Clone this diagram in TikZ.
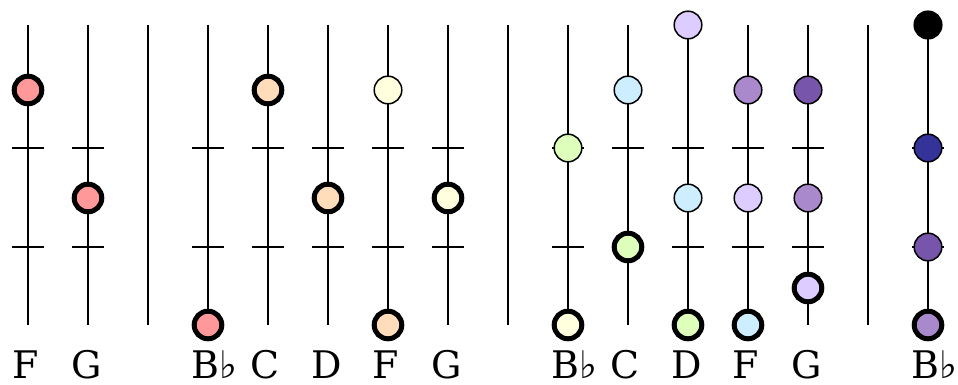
\documentclass[tikz,border=0pt]{standalone}
\usepackage{fontspec}
\setmainfont{DejaVu Serif}
\newfontfamily\symfont{DejaVu Sans}
\definecolor{cred}{HTML}{FF9999}
\definecolor{cpeach}{HTML}{FFDDBB}
\definecolor{cyel}{HTML}{FFFFDD}
\definecolor{cgreen}{HTML}{DDFFBB}
\definecolor{cblue}{HTML}{CCEEFF}
\definecolor{clav}{HTML}{DDCCFF}
\definecolor{cmpur}{HTML}{AA88CC}
\definecolor{cdpur}{HTML}{7755AA}
\definecolor{cdblue}{HTML}{333399}
\tikzset{
  string/.style={line width=1.8pt, black},
  tickmark/.style={line width=1.8pt, black},
  dotthin/.style={circle, draw=black, line width=1.5pt, minimum size=27.6pt, inner sep=0pt},
  dotthick/.style={circle, draw=black, line width=5pt, minimum size=27.6pt, inner sep=0pt},
  lab/.style={anchor=base west, inner sep=0pt, font=\fontsize{38}{40}\selectfont}
}
\newcommand{\flatsym}{{\symfont ♭}}
\begin{document}
\begin{tikzpicture}[x=1pt, y=-1pt]
\useasboundingbox (0,0) rectangle (958,385);
% strings and ticks
\foreach \c/\x in {a/28, b/88, s1/148, c/208, d/268, e/328, f/388, g/448, s2/508, h/568, i/628, j/688, k/748, l/808, s3/868, m/928} {
  \coordinate (\c top) at (\x,25);
  \coordinate (\c bot) at (\x,325);
  \draw[string] (\c top) -- (\c bot);
}
\foreach \c/\x in {a/28, b/88, c/208, d/268, e/328, f/388, g/448, h/568, i/628, j/688, k/748, l/808, m/928} {
  \coordinate (\c t1l) at (\x-16,148);
  \coordinate (\c t1r) at (\x+16,148);
  \coordinate (\c t2l) at (\x-16,247);
  \coordinate (\c t2r) at (\x+16,247);
  \draw[tickmark] (\c t1l) -- (\c t1r);
  \draw[tickmark] (\c t2l) -- (\c t2r);
}
% dots
\node[dotthick, fill=cred] (a1) at (28,90) {};
\node[dotthick, fill=cred] (b1) at (88,198) {};
\node[dotthick, fill=cred] (c1) at (208,325) {};
\node[dotthick, fill=cpeach] (d1) at (268,90) {};
\node[dotthick, fill=cpeach] (e1) at (328,198) {};
\node[dotthin, fill=cyel] (f1) at (388,90) {};
\node[dotthick, fill=cpeach] (f2) at (388,325) {};
\node[dotthick, fill=cyel] (g1) at (448,198) {};
\node[dotthin, fill=cgreen] (h1) at (568,148) {};
\node[dotthick, fill=cyel] (h2) at (568,325) {};
\node[dotthin, fill=cblue] (i1) at (628,90) {};
\node[dotthick, fill=cgreen] (i2) at (628,247) {};
\node[dotthin, fill=clav] (j1) at (688,25) {};
\node[dotthin, fill=cblue] (j2) at (688,198) {};
\node[dotthick, fill=cgreen] (j3) at (688,325) {};
\node[dotthin, fill=cmpur] (k1) at (748,90) {};
\node[dotthin, fill=clav] (k2) at (748,198) {};
\node[dotthick, fill=cblue] (k3) at (748,325) {};
\node[dotthin, fill=cdpur] (l1) at (808,90) {};
\node[dotthin, fill=cmpur] (l2) at (808,198) {};
\node[dotthick, fill=clav] (l3) at (808,288) {};
\node[dotthin, fill=black] (m1) at (928,25) {};
\node[dotthin, fill=cdblue] (m2) at (928,148) {};
\node[dotthin, fill=cdpur] (m3) at (928,247) {};
\node[dotthick, fill=cmpur] (m4) at (928,325) {};
% labels
\node[lab] (la) at (12,378) {F};
\node[lab] (lb) at (71,378) {G};
\node[lab] (lc) at (191,378) {B\flatsym};
\node[lab] (ld) at (250,378) {C};
\node[lab] (le) at (311,378) {D};
\node[lab] (lf) at (372,378) {F};
\node[lab] (lg) at (431,378) {G};
\node[lab] (lh) at (551,378) {B\flatsym};
\node[lab] (li) at (610,378) {C};
\node[lab] (lj) at (671,378) {D};
\node[lab] (lk) at (732,378) {F};
\node[lab] (ll) at (791,378) {G};
\node[lab] (lm) at (911,378) {B\flatsym};
\end{tikzpicture}
\end{document}
